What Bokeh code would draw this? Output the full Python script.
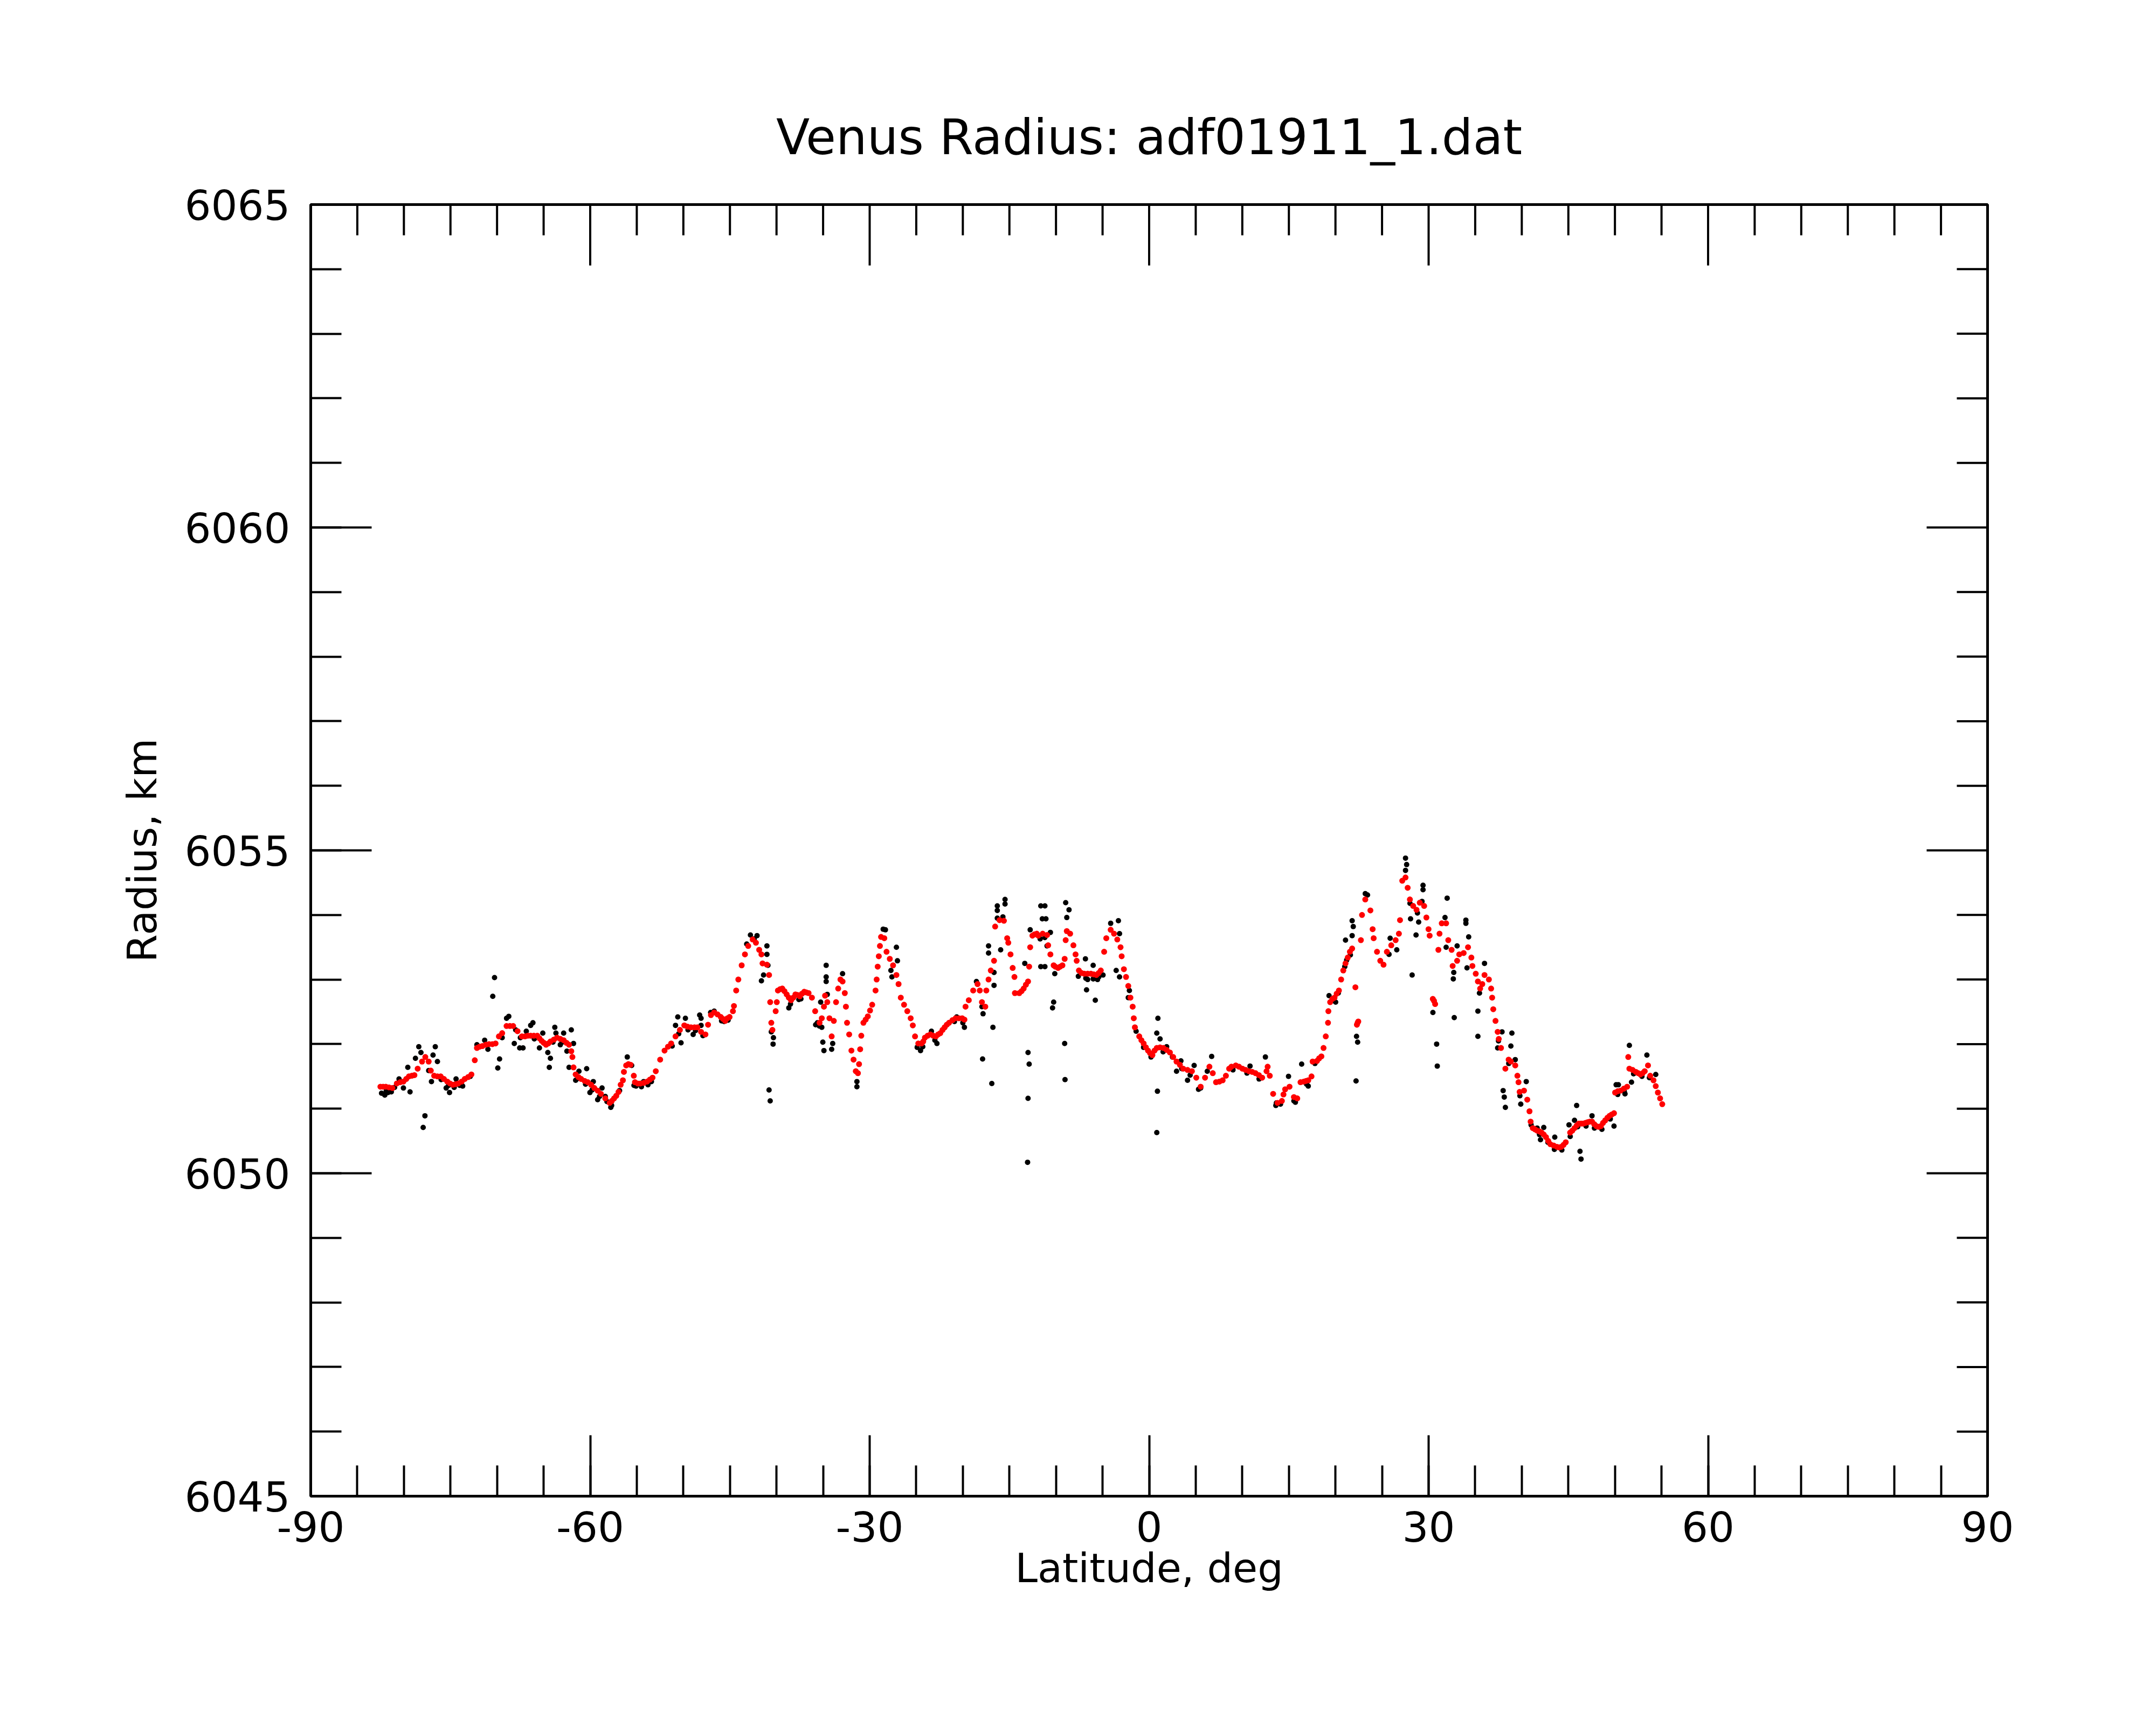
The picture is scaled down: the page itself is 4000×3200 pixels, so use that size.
from bokeh.plotting import figure
from bokeh.models import Range1d, FixedTicker, Title, ColumnDataSource
from bokeh.embed import file_html
from bokeh.resources import INLINE

TITLE = "Venus Radius: adf01911_1.dat"
X_LABEL = "Latitude, deg"
Y_LABEL = "Radius, km"
X_TICKS = [-90, -60, -30, 0, 30, 60, 90]
X_MINOR = list(range(-90, 91, 5))
Y_TICKS = [6045, 6050, 6055, 6060, 6065]
Y_MINOR = list(range(6045, 6066))

# smoothed profile (red)
RED_LAT = [
    -82.52, -82.23, -81.94, -81.60, -81.23, -80.76, -80.40, -80.05, -79.75, -79.46,
    -79.15, -78.87, -78.52, -78.05, -77.70, -77.34, -77.11, -76.75, -76.40, -76.05,
    -75.70, -75.34, -75.05, -74.75, -74.45, -74.16, -73.80, -73.47, -73.10, -72.75,
    -72.39, -72.16, -71.87, -71.57, -71.20, -70.86, -70.50, -70.16, -69.80, -69.45,
    -68.98, -68.62, -68.27, -67.80, -67.33, -67.00, -66.70, -66.39, -66.05, -65.68,
    -65.45, -65.21, -64.98, -64.74, -64.50, -64.27, -63.90, -63.56, -63.20, -62.85,
    -62.55, -62.27, -62.03, -61.91, -61.79, -61.56, -61.27, -60.97, -60.60, -60.26,
    -59.90, -59.56, -59.20, -58.85, -58.38, -57.91, -57.68, -57.44, -57.20, -56.96,
    -56.73, -56.49, -56.38, -56.14, -55.90, -55.67, -55.32, -55.20, -54.90, -54.61,
    -54.25, -53.90, -53.60, -53.31, -52.96, -52.49, -52.02, -51.65, -51.31, -50.84,
    -50.37, -49.90, -49.55, -49.19, -48.80, -48.49,
    -48.10, -47.63, -47.35, -47.04, -46.69, -46.33, -45.98, -45.75, -45.51, -45.27,
    -45.04, -44.68, -44.57, -44.33, -44.10, -43.74, -43.39, -43.04, -42.56, -42.21,
    -41.86, -41.62, -41.50, -41.03, -40.80, -40.68, -40.56, -40.44, -40.09, -39.97,
    -39.85, -39.62, -39.38, -39.15, -38.91, -38.68, -38.44, -38.20, -37.97, -37.74,
    -37.50, -37.27, -37.03, -36.80, -36.56, -36.20, -35.85, -35.38, -35.14, -34.91,
    -34.79, -34.55, -34.32, -34.08, -33.85, -33.61, -33.38, -33.14, -32.91, -32.67,
    -32.55, -32.43, -32.20, -31.96, -31.73, -31.49, -31.26, -31.14, -31.02, -30.90,
    -30.67, -30.43, -30.20, -29.96, -29.73, -29.37, -29.25, -29.14, -29.02, -28.90,
    -28.78, -28.43, -28.19, -27.84, -27.49, -27.13, -26.90, -26.66, -26.31, -25.96,
    -25.60, -25.37, -25.13, -24.78, -24.43, -24.25, -24.07, -23.78, -23.48, -23.18,
    -22.89, -22.65, -22.42, -22.18, -21.95, -21.72, -21.48, -21.12, -20.77, -20.42,
    -20.07, -19.83, -19.71, -19.36, -18.89, -18.42, -18.18, -17.95, -17.59, -17.48,
    -17.24, -17.00, -16.65, -16.53, -16.06, -15.59, -15.24, -15.12, -14.88, -14.65,
    -14.46, -14.41, -13.94, -13.70, -13.47, -13.23, -13.00, -12.88, -12.77, -12.53,
    -12.30, -12.06,
    -11.90, -11.43, -10.96, -10.84, -10.60, -10.25, -10.08, -9.78, -9.55, -9.31,
    -9.07, -8.96, -8.84, -8.48, -8.13, -7.90, -7.78, -7.54, -7.25, -6.95,
    -6.60, -6.25, -5.95, -5.66, -5.42, -5.19, -4.83, -4.60, -4.13, -3.77,
    -3.42, -3.07, -2.95, -2.71, -2.48, -2.24, -2.01, -1.77, -1.65, -1.53,
    -1.06, -0.83, -0.59, -0.35, -0.12, 0.10, 0.35, 0.58, 0.82, 1.17,
    1.53, 1.88, 2.23, 2.58, 2.94, 3.30, 3.65, 4.12, 4.59, 5.06,
    5.53, 6.00, 6.47, 6.83, 7.18, 7.54, 7.89, 8.24, 8.59, 8.83,
    9.30, 9.65, 10.01, 10.36, 10.71, 11.06, 11.42, 11.78, 12.13, 12.60,
    12.72, 12.95, 13.31, 13.78, 14.25, 14.42, 14.60, 15.07, 15.54, 15.90,
    16.25, 16.60, 16.84, 17.08, 17.43, 17.55, 18.02, 18.25, 18.49, 18.72,
    18.96, 19.20, 19.24, 19.43, 19.67, 19.90, 20.13, 20.37, 20.61, 20.84,
    21.08, 21.32, 21.55, 21.79, 22.14, 22.30, 22.38, 22.45, 22.73, 22.85,
    23.20,
    23.75, 23.99, 24.10, 24.46, 24.81, 25.16, 25.52, 25.99, 26.46, 26.81,
    26.93, 27.17, 27.52, 27.75, 27.99, 28.34, 28.70, 29.05, 29.52, 29.76,
    29.99, 30.11, 30.45, 30.58, 30.70, 31.05, 31.17, 31.41, 31.88, 32.11,
    32.47, 32.58, 33.06, 33.29, 33.76, 34.23, 34.59, 34.70, 35.06, 35.29,
    35.53, 35.76, 36.00, 36.47, 36.71, 36.82, 36.94, 37.18, 37.41, 37.53,
    37.77, 38.24, 38.59, 38.83, 39.30, 39.53, 39.65, 39.77, 40.24, 40.59,
    40.83, 40.95, 41.18, 41.42, 41.65, 41.88, 42.12, 42.36, 42.60, 42.84,
    43.07, 43.42, 43.77, 44.00, 44.24, 44.48, 44.72, 45.19, 45.42, 45.66,
    45.90, 46.13, 46.37, 46.60, 46.84, 47.07, 47.30, 47.54, 47.78, 48.01,
    48.25, 48.49, 48.72, 48.96, 49.20, 49.43, 49.66, 49.90, 50.02, 50.30,
    50.61, 50.95, 51.31, 51.43, 51.55, 51.90, 52.25, 52.50, 52.73, 52.97,
    53.20, 53.55, 53.79, 54.14, 54.38, 54.61, 54.85, 55.08,
]
RED_R = [
    6051.34, 6051.34, 6051.34, 6051.33, 6051.32, 6051.39, 6051.41, 6051.42, 6051.46, 6051.50,
    6051.51, 6051.52, 6051.62, 6051.73, 6051.80, 6051.73, 6051.59, 6051.51, 6051.50, 6051.50,
    6051.46, 6051.42, 6051.39, 6051.37, 6051.38, 6051.39, 6051.42, 6051.46, 6051.49, 6051.53,
    6051.75, 6051.94, 6051.96, 6051.97, 6051.99, 6052.00, 6052.00, 6052.01, 6052.12, 6052.17,
    6052.28, 6052.28, 6052.28, 6052.20, 6052.12, 6052.12, 6052.13, 6052.13, 6052.13, 6052.13,
    6052.09, 6052.05, 6052.02, 6051.99, 6052.01, 6052.04, 6052.07, 6052.10, 6052.08, 6052.06,
    6052.02, 6051.99, 6051.89, 6051.80, 6051.64, 6051.53, 6051.49, 6051.46, 6051.43, 6051.41,
    6051.37, 6051.32, 6051.28, 6051.23, 6051.16, 6051.09, 6051.12, 6051.16, 6051.20, 6051.26,
    6051.37, 6051.44, 6051.57, 6051.67, 6051.69, 6051.68, 6051.51, 6051.41, 6051.39, 6051.39,
    6051.40, 6051.42, 6051.45, 6051.48, 6051.58, 6051.76, 6051.90, 6051.96, 6052.01, 6052.12,
    6052.22, 6052.29, 6052.27, 6052.26, 6052.26, 6052.26,
    6052.19, 6052.15, 6052.30, 6052.45, 6052.49, 6052.46, 6052.42, 6052.39, 6052.36, 6052.40,
    6052.42, 6052.51, 6052.59, 6052.83, 6053.00, 6053.22, 6053.39, 6053.52, 6053.62, 6053.57,
    6053.46, 6053.39, 6053.25, 6053.23, 6053.07, 6052.65, 6052.33, 6052.22, 6052.51, 6052.65,
    6052.83, 6052.85, 6052.86, 6052.82, 6052.77, 6052.72, 6052.68, 6052.72, 6052.77, 6052.76,
    6052.74, 6052.78, 6052.81, 6052.80, 6052.79, 6052.72, 6052.51, 6052.33, 6052.40, 6052.58,
    6052.75, 6052.65, 6052.40, 6052.12, 6052.36, 6052.65, 6052.86, 6053.00, 6052.97, 6052.79,
    6052.58, 6052.33, 6052.15, 6051.90, 6051.76, 6051.58, 6051.55, 6051.69, 6051.92, 6052.13,
    6052.33, 6052.38, 6052.43, 6052.52, 6052.61, 6052.83, 6053.00, 6053.20, 6053.36, 6053.52,
    6053.66, 6053.64, 6053.43, 6053.32, 6053.22, 6053.07, 6052.93, 6052.72, 6052.61, 6052.51,
    6052.40, 6052.29, 6052.12, 6052.01, 6052.01, 6052.04, 6052.10, 6052.13, 6052.15, 6052.13,
    6052.12, 6052.15, 6052.17, 6052.22, 6052.26, 6052.30, 6052.33, 6052.37, 6052.40, 6052.40,
    6052.40, 6052.38, 6052.58, 6052.68, 6052.83, 6052.93, 6052.83, 6052.65, 6052.58, 6052.83,
    6053.00, 6053.14, 6053.29, 6053.82, 6053.92, 6053.91, 6053.64, 6053.57, 6053.39, 6053.18,
    6053.04, 6052.79, 6052.79, 6052.82, 6052.86, 6052.92, 6052.97, 6053.20, 6053.50, 6053.68,
    6053.70, 6053.71,
    6053.68, 6053.71, 6053.69, 6053.53, 6053.39, 6053.22, 6053.20, 6053.18, 6053.20, 6053.22,
    6053.32, 6053.61, 6053.75, 6053.71, 6053.53, 6053.39, 6053.29, 6053.14, 6053.10, 6053.09,
    6053.09, 6053.09, 6053.08, 6053.07, 6053.10, 6053.14, 6053.43, 6053.64, 6053.77, 6053.71,
    6053.62, 6053.50, 6053.36, 6053.16, 6053.04, 6052.90, 6052.72, 6052.58, 6052.40, 6052.26,
    6052.12, 6052.06, 6052.01, 6051.95, 6051.90, 6051.86, 6051.83, 6051.90, 6051.94, 6051.95,
    6051.94, 6051.91, 6051.87, 6051.80, 6051.73, 6051.68, 6051.62, 6051.60, 6051.58, 6051.48,
    6051.34, 6051.48, 6051.65, 6051.55, 6051.41, 6051.42, 6051.44, 6051.51, 6051.62, 6051.65,
    6051.67, 6051.65, 6051.62, 6051.60, 6051.58, 6051.57, 6051.55, 6051.52, 6051.48, 6051.58,
    6051.65, 6051.51, 6051.23, 6051.09, 6051.12, 6051.22, 6051.30, 6051.34, 6051.18, 6051.16,
    6051.41, 6051.42, 6051.43, 6051.44, 6051.50, 6051.73, 6051.74, 6051.78, 6051.81, 6051.94,
    6052.12, 6052.33, 6052.51, 6052.65, 6052.70, 6052.72, 6052.78, 6052.83, 6053.00, 6053.14,
    6053.25, 6053.34, 6053.43, 6053.48, 6052.88, 6052.30, 6052.33, 6052.35, 6053.61, 6054.00,
    6054.24,
    6054.07, 6053.78, 6053.64, 6053.43, 6053.29, 6053.23, 6053.43, 6053.53, 6053.61, 6053.71,
    6053.92, 6054.53, 6054.58, 6054.42, 6054.24, 6054.14, 6054.08, 6054.19, 6054.14, 6053.96,
    6053.78, 6053.68, 6052.70, 6052.67, 6052.62, 6053.46, 6053.71, 6053.87, 6053.87, 6053.61,
    6053.46, 6053.21, 6053.29, 6053.39, 6053.41, 6053.50, 6053.34, 6053.21, 6053.09, 6052.97,
    6052.86, 6052.93, 6053.07, 6053.00, 6052.86, 6052.72, 6052.54, 6052.36, 6052.19, 6052.08,
    6051.94, 6051.62, 6051.76, 6051.73, 6051.67, 6051.51, 6051.41, 6051.26, 6051.28, 6051.14,
    6050.96, 6050.80, 6050.70, 6050.68, 6050.66, 6050.65, 6050.63, 6050.60, 6050.56, 6050.50,
    6050.45, 6050.43, 6050.41, 6050.40, 6050.41, 6050.44, 6050.48, 6050.63, 6050.66, 6050.70,
    6050.74, 6050.77, 6050.77, 6050.77, 6050.78, 6050.79, 6050.80, 6050.80, 6050.76, 6050.73,
    6050.72, 6050.73, 6050.78, 6050.82, 6050.86, 6050.89, 6050.91, 6050.93, 6051.25, 6051.27,
    6051.28, 6051.31, 6051.34, 6051.80, 6051.62, 6051.60, 6051.57, 6051.55, 6051.53, 6051.55,
    6051.58, 6051.67, 6051.51, 6051.44, 6051.35, 6051.25, 6051.16, 6051.07,
]

# raw measurements (black): scattered samples and outliers
BLACK_LAT = [
    -82.05, -81.70, -81.35, -80.52, -80.05, -79.58, -79.34, -78.76, -78.40, -78.17,
    -77.93, -77.74, -77.34, -77.04, -76.87, -76.63, -76.40, -75.46, -75.10, -74.40,
    -73.69, -72.87, -72.16, -71.33, -70.98, -70.46, -70.27, -69.92, -69.73, -69.45,
    -68.98, -68.74, -68.15, -67.57, -67.21, -66.86, -66.39, -66.15, -65.45, -65.09,
    -64.55, -64.39, -64.27, -63.80, -63.68, -63.21, -62.85, -62.50, -62.27, -62.03,
    -61.79, -61.56, -61.21, -60.38, -60.03, -59.67, -59.20, -58.73, -58.38, -57.79,
    -56.85, -56.02, -55.55, -55.08, -54.26, -53.43, -50.84, -50.60, -50.25, -49.78,
    -48.95, -48.25, -47.90, -47.07,
    -48.10, -48.10, -46.69, -45.63, -42.80, -42.09, -41.03, -41.03, -41.39, -41.62,
    -40.92, -40.56, -40.33, -40.37, -40.80, -40.68, -38.68, -37.38, -35.61, -35.26,
    -35.14, -35.03, -34.91, -34.67, -34.67, -34.67, -34.55, -34.08, -33.97, -32.91,
    -31.37, -31.37, -28.55, -28.31, -27.13, -27.02, -27.61, -27.72, -24.54, -23.37,
    -22.78, -20.66, -19.83, -18.54, -17.95, -17.83, -17.88, -17.24, -17.24, -16.89,
    -16.77, -16.65, -16.65, -16.30, -16.30, -15.94, -15.47, -15.47, -13.00, -12.88,
    -13.00, -13.05, -13.35, -12.77, -11.63, -11.63, -11.47,
    -11.19, -11.08, -10.60, -10.96, -11.19, -10.13, -10.25, -10.37, -8.96, -8.60,
    -8.84, -9.07, -9.03, -6.84, -6.01, -6.60, -6.72, -5.78, -5.54, -4.95,
    -4.13, -3.30, -3.18, -3.54, -3.18, -2.12, -2.24, 0.94, 0.82, 1.17,
    0.89, 0.82, 1.88, 3.41, 2.94, 4.12, 4.83, 5.53, 6.71, 6.24,
    10.83, 12.48, 13.66, 14.96, 15.54, 16.37, 17.08, 19.31, 20.02, 21.20,
    21.79, 21.91, 21.08, 21.79, 22.26, 22.38, 22.21, 23.20, 23.44,
    25.87, 25.75, 26.58, 27.52, 27.64, 27.52, 28.06, 28.65, 28.93, 29.40,
    29.40, 29.29, 28.23, 30.46, 30.86, 30.93, 31.99, 31.76, 31.88, 32.70,
    32.65, 33.06, 32.75, 34.00, 34.00, 34.30, 34.12, 35.29, 35.29, 36.00,
    35.46, 37.88, 38.94, 37.41, 38.83, 38.00, 38.12, 38.24, 39.30, 40.48,
    39.89, 41.65, 42.36, 42.01, 43.54, 45.07, 45.89, 46.25, 46.36, 45.66,
    47.54, 49.90, 50.13, 50.37, 51.08, 51.55, 51.78, 53.43, 54.38,
]
BLACK_R = [
    6051.21, 6051.25, 6051.26, 6051.46, 6051.32, 6051.64, 6051.26, 6051.78, 6051.96, 6051.87,
    6050.71, 6050.89, 6051.59, 6051.42, 6051.83, 6051.96, 6051.73, 6051.32, 6051.25, 6051.46,
    6051.35, 6051.50, 6051.99, 6052.06, 6051.92, 6052.74, 6053.03, 6051.63, 6051.77, 6052.10,
    6052.40, 6052.43, 6052.01, 6051.94, 6051.94, 6052.20, 6052.29, 6052.33, 6051.94, 6052.17,
    6051.87, 6051.64, 6051.78, 6052.26, 6052.17, 6051.99, 6052.17, 6051.89, 6051.64, 6052.22,
    6052.01, 6051.44, 6051.58, 6051.62, 6051.25, 6051.42, 6051.14, 6051.32, 6051.19, 6051.02,
    6051.28, 6051.80, 6051.67, 6051.35, 6051.42, 6051.42, 6052.29, 6052.42, 6052.02, 6052.40,
    6052.15, 6052.45, 6052.13, 6052.49,
    6052.40, 6052.29, 6052.51, 6052.35, 6053.69, 6053.68, 6053.52, 6053.39, 6053.07, 6052.98,
    6053.22, 6052.19, 6052.10, 6052.00, 6051.29, 6051.12, 6052.56, 6052.70, 6052.33, 6052.65,
    6052.26, 6052.03, 6051.90, 6053.22, 6053.04, 6052.97, 6052.77, 6051.92, 6052.01, 6053.09,
    6051.34, 6051.42, 6053.78, 6053.77, 6053.50, 6053.29, 6053.04, 6053.14, 6051.90, 6052.20,
    6052.01, 6052.42, 6052.26, 6052.97, 6052.58, 6052.47, 6051.77, 6053.52, 6053.41, 6051.39,
    6052.26, 6053.11, 6052.91, 6054.14, 6054.07, 6053.46, 6054.24, 6054.17, 6051.87, 6051.69,
    6051.16, 6050.17, 6053.25, 6053.77, 6054.14, 6053.20, 6053.94,
    6054.14, 6053.94, 6053.73, 6053.52, 6053.20, 6053.09, 6052.65, 6052.56, 6054.19, 6054.08,
    6053.96, 6052.01, 6051.45, 6053.32, 6053.22, 6053.00, 6052.84, 6052.68, 6053.00, 6053.07,
    6053.87, 6053.91, 6053.71, 6053.14, 6053.04, 6052.83, 6052.72, 6052.40, 6052.17, 6052.08,
    6051.27, 6050.63, 6051.96, 6051.74, 6051.58, 6051.44, 6051.67, 6051.32, 6051.81, 6051.58,
    6051.66, 6051.80, 6051.09, 6051.50, 6051.12, 6051.69, 6051.35, 6052.75, 6052.65, 6053.30,
    6053.91, 6053.82, 6053.61, 6053.68, 6052.12, 6052.03, 6051.43, 6054.33, 6054.31,
    6053.64, 6053.39, 6053.46, 6054.88, 6054.78, 6054.69, 6053.94, 6053.69, 6053.89, 6054.46,
    6054.39, 6054.21, 6053.07, 6052.49, 6052.00, 6051.66, 6054.26, 6053.96, 6053.50, 6053.11,
    6053.01, 6053.52, 6052.41, 6053.92, 6053.87, 6053.66, 6053.18, 6052.51, 6052.12, 6053.25,
    6052.79, 6052.19, 6052.17, 6051.94, 6051.97, 6051.28, 6051.18, 6051.02, 6051.76, 6051.42,
    6051.07, 6050.70, 6050.71, 6050.52, 6050.56, 6050.75, 6051.05, 6050.34, 6050.22, 6050.82,
    6050.89, 6050.73, 6051.37, 6051.37, 6051.23, 6051.98, 6051.41, 6051.83, 6051.53,
]

# raw measurements (black) lying just beside the smoothed profile
BLACK_CORE_LAT = [
    -82.40, -81.90, -81.50, -81.00, -76.00, -75.20, -74.60, -74.00, -68.00, -67.50,
    -66.00, -65.00, -64.00, -63.00, -61.30, -60.50, -59.80, -59.00, -58.20, -57.70,
    -55.30, -54.50, -53.80, -51.20, -50.50, -49.50, -48.70,
    -45.90, -45.20, -43.20, -42.40, -38.50, -37.60, -35.80, -35.40, -24.90, -24.30,
    -23.00, -20.90, -20.00, -16.30, -15.70,
    -11.70, -11.20, -7.60, -6.80, -6.00, -5.40, -1.40, -0.60, 0.20, 1.50,
    2.50, 3.50, 4.40, 5.30, 9.00, 10.50, 11.80, 13.60, 14.10, 15.70,
    16.90, 17.80, 19.60, 20.30, 21.00, 21.60,
    28.00, 28.80, 37.50, 38.60, 39.80, 41.00, 41.90, 42.80, 43.50, 44.30,
    45.20, 46.00, 46.90, 47.80, 48.60, 49.50, 50.30, 51.00, 52.00, 52.90,
    53.70,
]
BLACK_CORE_R = [
    6051.24, 6051.27, 6051.28, 6051.33, 6051.45, 6051.36, 6051.33, 6051.36, 6052.22, 6052.10,
    6052.08, 6052.02, 6052.03, 6052.03, 6051.47, 6051.38, 6051.29, 6051.19, 6051.11, 6051.05,
    6051.36, 6051.34, 6051.37, 6051.97, 6052.16, 6052.22, 6052.21,
    6052.36, 6052.37, 6053.55, 6053.63, 6052.62, 6052.69, 6052.30, 6052.28, 6051.95, 6051.96,
    6052.06, 6052.35, 6052.33, 6053.95, 6053.97,
    6053.63, 6053.65, 6053.05, 6053.02, 6053.01, 6053.04, 6052.20, 6051.95, 6051.80, 6051.88,
    6051.80, 6051.62, 6051.52, 6051.30, 6051.60, 6051.55, 6051.46, 6051.05, 6051.07, 6051.10,
    6051.38, 6051.70, 6052.67, 6052.79, 6053.20, 6053.38,
    6054.18, 6054.03, 6052.05, 6051.70, 6051.20, 6050.75, 6050.60, 6050.48, 6050.37, 6050.36,
    6050.57, 6050.72, 6050.73, 6050.70, 6050.68, 6050.84, 6051.22, 6051.27, 6051.54, 6051.50,
    6051.48,
]

FONT = "DejaVu Sans"
FRAME_W, FRAME_H = 3111, 2396
MAJ_LEN, MIN_LEN = 113, 57      # inward tick lengths, screen px
X0, X1, Y0, Y1 = -90, 90, 6045, 6065

p = figure(
    frame_width=FRAME_W, frame_height=FRAME_H,
    min_border_left=576, min_border_right=3984 - 576 - FRAME_W,
    min_border_top=379, min_border_bottom=3184 - 379 - FRAME_H,
    x_range=Range1d(X0, X1), y_range=Range1d(Y0, Y1),
    output_backend="svg", toolbar_location=None,
    x_axis_label=X_LABEL, y_axis_label=Y_LABEL,
    background_fill_color="white", border_fill_color="white",
)
p.grid.visible = False
p.outline_line_color = "black"
p.outline_line_width = 5

p.title = Title(text=TITLE, align="center", text_font=FONT, text_font_size="91px",
                text_font_style="normal", text_color="black", standoff=145)

def style_axis(ax):
    ax.axis_line_width = 5
    ax.axis_line_color = "black"
    ax.major_tick_in = MAJ_LEN
    ax.major_tick_out = 0
    ax.minor_tick_in = MIN_LEN
    ax.minor_tick_out = 0
    ax.major_tick_line_width = 4
    ax.minor_tick_line_width = 4
    ax.major_tick_line_color = "black"
    ax.minor_tick_line_color = "black"
    ax.major_label_text_font = FONT
    ax.major_label_text_font_size = "77px"
    ax.major_label_text_color = "black"
    ax.axis_label_text_font = FONT
    ax.axis_label_text_font_size = "75px"
    ax.axis_label_text_font_style = "normal"
    ax.axis_label_text_color = "black"

xa = p.xaxis[0]
xa.ticker = FixedTicker(ticks=X_TICKS, minor_ticks=X_MINOR)
style_axis(xa)
xa.major_label_standoff = 28
xa.axis_label_standoff = 2
xa.major_label_overrides = {t: str(t) for t in X_TICKS}

ya = p.yaxis[0]
ya.ticker = FixedTicker(ticks=Y_TICKS, minor_ticks=Y_MINOR)
style_axis(ya)
ya.major_label_standoff = 38
ya.axis_label_standoff = 32

# inward ticks on the top and right edges (no labels there)
dy_maj = MAJ_LEN * (Y1 - Y0) / FRAME_H
dy_min = MIN_LEN * (Y1 - Y0) / FRAME_H
dx_maj = MAJ_LEN * (X1 - X0) / FRAME_W
dx_min = MIN_LEN * (X1 - X0) / FRAME_W
top_x = X_MINOR
top_len = [dy_maj if t in X_TICKS else dy_min for t in top_x]
p.segment(x0=top_x, x1=top_x, y0=[Y1] * len(top_x), y1=[Y1 - L for L in top_len],
          line_color="black", line_width=4)
right_y = Y_MINOR
right_len = [dx_maj if t in Y_TICKS else dx_min for t in right_y]
p.segment(x0=[X1] * len(right_y), x1=[X1 - L for L in right_len], y0=right_y, y1=right_y,
          line_color="black", line_width=4)

black_src = ColumnDataSource(dict(lat=BLACK_LAT + BLACK_CORE_LAT, r=BLACK_R + BLACK_CORE_R))
red_src = ColumnDataSource(dict(lat=RED_LAT, r=RED_R))
p.scatter("lat", "r", source=black_src, size=10, color="black", line_width=0)
p.scatter("lat", "r", source=red_src, size=11, color="red", line_width=0)

open("out.html", "w").write(file_html(p, INLINE))
